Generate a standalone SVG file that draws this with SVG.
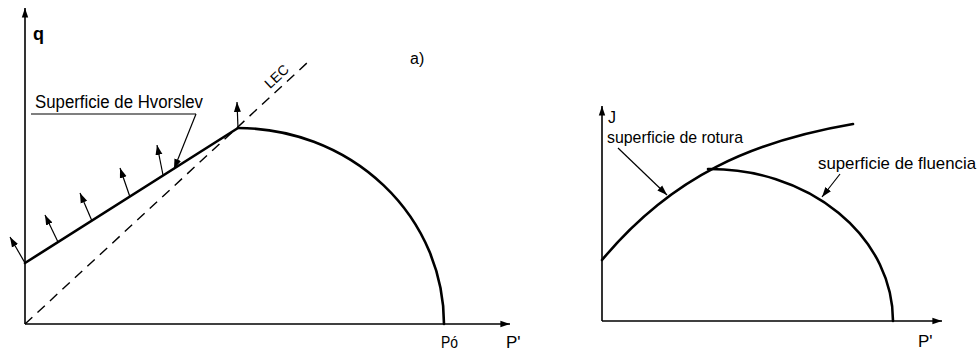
<svg xmlns="http://www.w3.org/2000/svg" width="980" height="351" viewBox="0 0 980 351">
<style>
.axis{stroke:#000;stroke-width:1.6;fill:none}
.thick{stroke:#000;stroke-width:2.6;fill:none;stroke-linecap:round}
.thin{stroke:#000;stroke-width:1.2;fill:none}
.dash{stroke:#000;stroke-width:1.4;fill:none;stroke-dasharray:10 7}
.lbl{font-family:"Liberation Sans",Arial,sans-serif;fill:#000}
</style>
<defs>
<marker id="ah" viewBox="0 0 10 10" refX="10" refY="5" markerWidth="10" markerHeight="10" markerUnits="userSpaceOnUse" orient="auto">
<path d="M0,1.5 L10,5 L0,8.5 z" fill="#000"/>
</marker>
<marker id="ax" viewBox="0 0 12 10" refX="12" refY="5" markerWidth="12" markerHeight="8" markerUnits="userSpaceOnUse" orient="auto">
<path d="M0,1 L12,5 L0,9 z" fill="#000"/>
</marker>
</defs>
<g id="left-axes">
<line class="axis" x1="25" y1="324" x2="25" y2="8" marker-end="url(#ax)"/>
<line class="axis" x1="25" y1="324" x2="510" y2="324" marker-end="url(#ax)"/>
<text class="lbl" x="33" y="40" font-size="18" font-weight="bold">q</text>
<text class="lbl" x="441" y="348" font-size="17" textLength="17" lengthAdjust="spacingAndGlyphs">Pó</text>
<text class="lbl" x="506" y="348" font-size="17">P'</text>
<text class="lbl" x="410" y="64" font-size="16">a)</text>
</g>
<g id="lec">
<line class="dash" x1="25" y1="324" x2="308" y2="62"/>
<text class="lbl" x="280" y="80" font-size="14" text-anchor="middle" transform="rotate(-43 280 80)">LEC</text>
</g>
<g id="hvorslev">
<line class="thick" x1="25" y1="263" x2="238" y2="128"/>
<text class="lbl" x="35" y="108" font-size="18" textLength="168" lengthAdjust="spacingAndGlyphs">Superficie de Hvorslev</text>
<line class="thin" x1="31" y1="114" x2="196" y2="114"/>
</g>
<g id="cap">
<path class="thick" d="M238,128 A206,196 0 0,1 444,324"/>
</g>
<g id="connectors">
<line class="thin" x1="196" y1="114" x2="174" y2="169" marker-end="url(#ah)"/>
<line class="thin" x1="25" y1="263" x2="10" y2="237" marker-end="url(#ah)"/>
<line class="thin" x1="58" y1="242" x2="45" y2="215" marker-end="url(#ah)"/>
<line class="thin" x1="92" y1="221" x2="80" y2="193" marker-end="url(#ah)"/>
<line class="thin" x1="130" y1="197" x2="120" y2="168" marker-end="url(#ah)"/>
<line class="thin" x1="163" y1="175" x2="157" y2="145" marker-end="url(#ah)"/>
<line class="thin" x1="238" y1="128" x2="237" y2="102" marker-end="url(#ah)"/>
<line class="thin" x1="618" y1="148" x2="667" y2="195" marker-end="url(#ah)"/>
<line class="thin" x1="840" y1="174" x2="822" y2="197" marker-end="url(#ah)"/>
</g>
<g id="right-axes">
<line class="axis" x1="602" y1="321" x2="602" y2="106" marker-end="url(#ax)"/>
<line class="axis" x1="602" y1="321" x2="942" y2="321" marker-end="url(#ax)"/>
<text class="lbl" x="608" y="123" font-size="16">J</text>
<text class="lbl" x="918" y="347" font-size="17">P'</text>
</g>
<g id="rotura">
<path class="thick" d="M602,260 C672,176 753,141 853,124"/>
<text class="lbl" x="607" y="143" font-size="17" textLength="136" lengthAdjust="spacingAndGlyphs">superficie de rotura</text>
</g>
<g id="fluencia">
<path class="thick" d="M708,169 A183,152 0 0,1 893,321"/>
<text class="lbl" x="818" y="169" font-size="17" textLength="158" lengthAdjust="spacingAndGlyphs">superficie de fluencia</text>
</g>
</svg>
